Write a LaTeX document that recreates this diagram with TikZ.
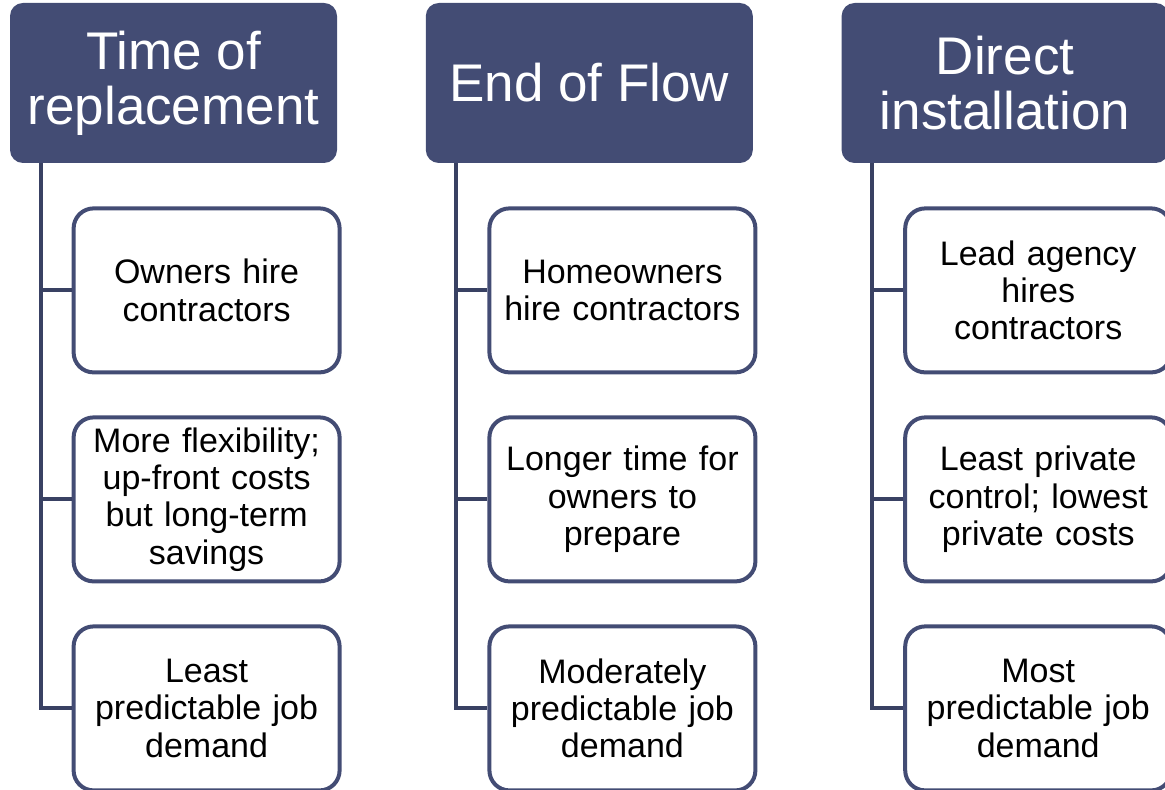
\documentclass[tikz,border=0pt]{standalone}
\usepackage{fontspec}
\setmainfont{Liberation Sans}
\usepackage{tikz}
\usetikzlibrary{
  positioning
}
\definecolor{navy}{RGB}{67,76,116}

\begin{document}
\begin{tikzpicture}[
  head/.style={fill=navy, text=white, rounded corners=6.5pt, minimum width=163.5pt, minimum height=80pt, align=center, inner sep=0pt, font=\fontsize{26.5}{27.5}\selectfont},
  item/.style={draw=navy, line width=2pt, fill=white, rounded corners=10pt, minimum width=133pt, minimum height=82pt, text width=130pt, align=center, inner sep=0pt, font=\fontsize{17}{18.7}\selectfont},
  conn/.style={draw=navy!85!black, line width=2pt}
]
\useasboundingbox (0,0) rectangle (582.5pt,-395pt);
\clip (0,0) rectangle (582.5pt,-395pt);

\node[head] (hdA) at (86.75pt,-41.5pt)	{Time of\\replacement};
\node[head] (hdB) [right=44pt of hdA]	{End of Flow};
\node[head] (hdC) [right=44pt of hdB]	{Direct\\installation};

\node[item] (itA1) [below=21.5pt of hdA.south west, anchor=north west, xshift=31pt]	{Owners hire\\contractors};
\node[item] (itA2) [below=20.5pt of itA1]	{More flexibility;\\up-front costs\\but long-term\\savings};
\node[item] (itA3) [below=20.5pt of itA2]	{Least\\predictable job\\demand};

\node[item] (itB1) [below=21.5pt of hdB.south west, anchor=north west, xshift=31pt]	{Homeowners\\hire contractors};
\node[item] (itB2) [below=20.5pt of itB1]	{Longer time for\\owners to\\prepare};
\node[item] (itB3) [below=20.5pt of itB2]	{Moderately\\predictable job\\demand};

\node[item] (itC1) [below=21.5pt of hdC.south west, anchor=north west, xshift=31pt]	{Lead agency\\hires\\contractors};
\node[item] (itC2) [below=20.5pt of itC1]	{Least private\\control; lowest\\private costs};
\node[item] (itC3) [below=20.5pt of itC2]	{Most\\predictable job\\demand};

\draw[conn]	([xshift=15.5pt]hdA.south west) |- (itA3.west)
			([xshift=15.5pt]hdA.south west) |- (itA1.west)
			([xshift=15.5pt]hdA.south west) |- (itA2.west);
\draw[conn]	([xshift=15.5pt]hdB.south west) |- (itB3.west)
			([xshift=15.5pt]hdB.south west) |- (itB1.west)
			([xshift=15.5pt]hdB.south west) |- (itB2.west);
\draw[conn]	([xshift=15.5pt]hdC.south west) |- (itC3.west)
			([xshift=15.5pt]hdC.south west) |- (itC1.west)
			([xshift=15.5pt]hdC.south west) |- (itC2.west);
\end{tikzpicture}
\end{document}
